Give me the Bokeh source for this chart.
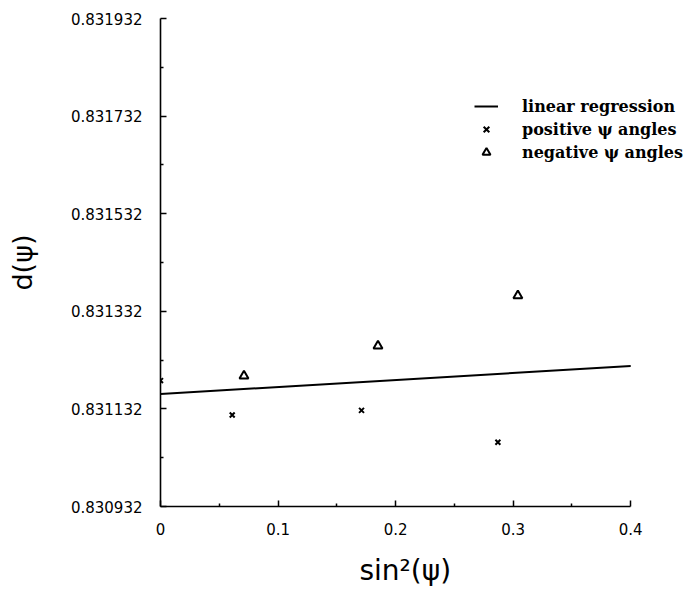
from bokeh.plotting import figure
from bokeh.models import Range1d, FixedTicker, PrintfTickFormatter, Legend, LegendItem, Title
from bokeh.embed import file_html
from bokeh.resources import INLINE

# data
pos_x = [0.0, 0.061, 0.171, 0.287]
pos_y = [0.831190, 0.8311195, 0.831129, 0.8310636]
neg_x = [0.071, 0.185, 0.304]
neg_y = [0.8311994, 0.831261, 0.831364]
reg_x = [0.0, 0.4]
reg_y = [0.8311625, 0.831220]

x_ticks = [0, 0.1, 0.2, 0.3, 0.4]
x_minor = [0.05, 0.15, 0.25, 0.35]
y_ticks = [0.830932, 0.831132, 0.831332, 0.831532, 0.831732, 0.831932]
y_minor = [0.831032, 0.831232, 0.831432, 0.831632, 0.831832]

p = figure(width=700, height=601, output_backend="svg", toolbar_location=None,
           x_range=Range1d(0, 0.45), y_range=Range1d(0.830932, 0.831932),
           min_border_left=160, min_border_right=11, min_border_top=18, min_border_bottom=95)
p.outline_line_color = None
p.xgrid.visible = False
p.ygrid.visible = False
p.background_fill_color = "white"
p.border_fill_color = "white"

r_line = p.line(reg_x, reg_y, line_color="black", line_width=2)
r_pos = p.scatter(pos_x, pos_y, marker="x", size=7, line_color="black", line_width=2)
r_neg = p.scatter(neg_x, neg_y, marker="triangle", size=9, fill_color="white",
                  line_color="black", line_width=2)

for ax in (p.xaxis[0], p.yaxis[0]):
    ax.axis_line_color = "black"
    ax.axis_line_width = 1.6
    ax.major_tick_in = 6
    ax.major_tick_out = 0
    ax.minor_tick_in = 3
    ax.minor_tick_out = 0
    ax.major_tick_line_color = "black"
    ax.minor_tick_line_color = "black"
    ax.major_tick_line_width = 1.5
    ax.minor_tick_line_width = 1.5
    ax.major_label_text_font = "DejaVu Sans"
    ax.major_label_text_font_size = "15px"
    ax.major_label_text_color = "black"
    ax.axis_label_text_font = "DejaVu Sans"
    ax.axis_label_text_font_style = "normal"
    ax.axis_label_text_font_size = "27px"
    ax.axis_label_text_color = "black"

p.xaxis.bounds = (0, 0.4)
p.xaxis.ticker = FixedTicker(ticks=x_ticks, minor_ticks=x_minor)
p.xaxis.major_label_overrides = {0: "0", 0.1: "0.1", 0.2: "0.2", 0.3: "0.3", 0.4: "0.4"}
p.xaxis.major_label_standoff = 16

xlabel = Title(text="sin²(ψ)", align="left", offset=199, standoff=29,
               text_font="DejaVu Sans", text_font_style="normal",
               text_font_size="28px", text_color="black")
p.add_layout(xlabel, "below")

p.yaxis.ticker = FixedTicker(ticks=y_ticks, minor_ticks=y_minor)
p.yaxis.formatter = PrintfTickFormatter(format="%.6f")
p.yaxis.major_label_standoff = 18
p.yaxis.axis_label = "d(ψ)"
p.yaxis.axis_label_standoff = 30

legend = Legend(items=[
    LegendItem(label="linear regression", renderers=[r_line]),
    LegendItem(label="positive ψ angles", renderers=[r_pos]),
    LegendItem(label="negative ψ angles", renderers=[r_neg]),
], location=(314, 344), padding=0, margin=0, spacing=3,
   glyph_width=24, glyph_height=20, label_height=20, label_standoff=24,
   border_line_color=None, background_fill_alpha=0,
   label_text_font="DejaVu Serif", label_text_font_style="bold",
   label_text_font_size="16px", label_text_color="black")
p.add_layout(legend)

open("out.html", "w").write(file_html(p, INLINE))
